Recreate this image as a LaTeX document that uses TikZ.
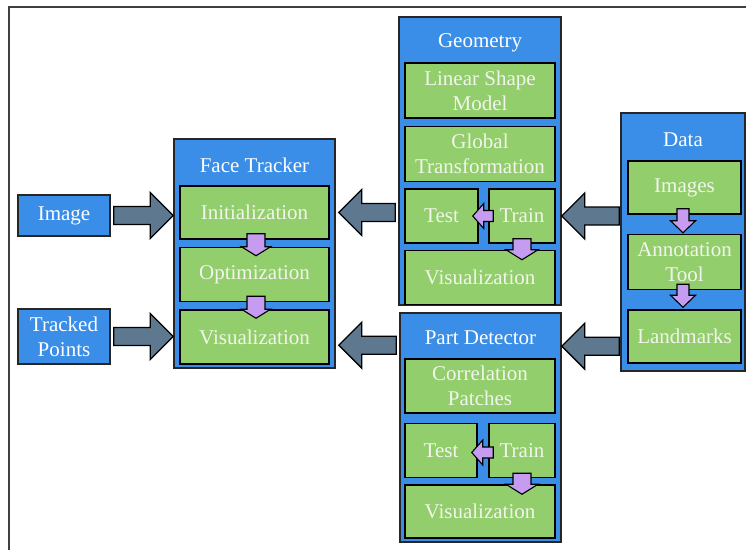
\documentclass[tikz,border=0pt]{standalone}
\usepackage{fontspec}
\setmainfont{Liberation Serif}
\usetikzlibrary{positioning,calc}

\definecolor{grpblue}{RGB}{58,142,232}
\definecolor{boxgreen}{RGB}{146,206,107}
\definecolor{subpurple}{RGB}{197,156,239}
\definecolor{arrgray}{RGB}{94,120,144}
\definecolor{boxtext}{RGB}{242,245,236}

% block arrow from start to target: shaft half width / head half width / head length
\tikzset{
  blockto/.style args={#1/#2/#3}{to path={
    ($(\tikztostart)!#1!90:(\tikztotarget)$)
    -- ($(\tikztotarget)!#3!(\tikztostart)+(\tikztostart)!#1!90:(\tikztotarget)-(\tikztostart)$)
    -- ($(\tikztotarget)!#3!(\tikztostart)+(\tikztostart)!#2!90:(\tikztotarget)-(\tikztostart)$)
    -- (\tikztotarget)
    -- ($(\tikztotarget)!#3!(\tikztostart)+(\tikztostart)!#2!-90:(\tikztotarget)-(\tikztostart)$)
    -- ($(\tikztotarget)!#3!(\tikztostart)+(\tikztostart)!#1!-90:(\tikztotarget)-(\tikztostart)$)
    -- ($(\tikztostart)!#1!-90:(\tikztotarget)$) -- cycle}}
}

\begin{document}
\begin{tikzpicture}[x=1pt, y=-1pt,
  grp/.style={draw=black!85, fill=grpblue, line width=1.6pt, inner sep=0pt},
  src/.style={draw=black!85, fill=grpblue, line width=1.6pt, inner sep=0pt, minimum width=92pt, align=center, text=white, font=\fontsize{21}{25}\selectfont},
  ttl/.style={text=white, font=\fontsize{21}{25}\selectfont},
  box/.style={draw=black, fill=boxgreen, line width=1.5pt, inner sep=0pt, minimum width=150pt, minimum height=54pt, align=center, text=boxtext, font=\fontsize{21}{25}\selectfont},
  arr/.style={draw=black, fill=arrgray, line width=1.3pt, blockto={9pt/23pt/23pt}},
  sub/.style={draw=black, fill=subpurple, line width=1.1pt, blockto={#1}},
  sub/.default={9pt/14.5pt/9pt}
]
\useasboundingbox (0,0) rectangle (746,550);
\draw[line width=1.8pt, black!75] (9,550) -- (9,7) -- (746,7);

% inputs
\node[src, minimum height=41pt] (img) at (64,215.5) {Image};
\node[src, minimum height=55pt] (trk) at (64,336.5) {Tracked\\Points};

% face tracker
\node[grp, minimum width=161pt, minimum height=229pt] (ft) at (254.5,253.5) {};
\node[ttl] (fttitle) at (254.5,165) {Face Tracker};
\node[box, minimum width=149pt, minimum height=53pt] (ftinit) at (254.5,212.5) {Initialization};
\node[box, minimum width=149pt, below=7pt of ftinit] (ftopt) {Optimization};
\node[box, minimum width=149pt, below=7pt of ftopt] (ftvis) {Visualization};

% geometry
\node[grp, minimum width=162pt, minimum height=288pt] (geo) at (480,161) {};
\node[ttl] (geotitle) at (480,43) {Geometry};
\node[box, minimum height=55pt] (geoshape) at (480,90.5) {Linear Shape\\Model};
\node[box, minimum height=55pt, below=7pt of geoshape] (geoglob) {Global\\Transformation};
\node[box, minimum width=73pt, below=6pt of geoglob.south west, anchor=north west] (geotest) {Test};
\node[box, minimum width=66pt, below=6pt of geoglob.south east, anchor=north east] (geotrain) {Train};
\node[box, below=6pt of geotest.south west, anchor=north west] (geovis) {Visualization};

% data
\node[grp, minimum width=124pt, minimum height=258pt] (data) at (683,242) {};
\node[ttl] (datatitle) at (683,140) {Data};
\node[box, minimum width=113pt, minimum height=53pt] (dataimg) at (684.5,187.5) {Images};
\node[box, minimum width=113pt, minimum height=55pt, below=19pt of dataimg] (dataann) {Annotation\\Tool};
\node[box, minimum width=113pt, minimum height=53pt, below=19pt of dataann] (dataland) {Landmarks};

% part detector
\node[grp, minimum width=161pt, minimum height=229pt] (pd) at (480.5,427.5) {};
\node[ttl] (pdtitle) at (480.5,338) {Part Detector};
\node[box] (pdcorr) at (480,386) {Correlation\\Patches};
\node[box, minimum width=72pt, below=9pt of pdcorr.south west, anchor=north west] (pdtest) {Test};
\node[box, minimum width=66pt, below=9pt of pdcorr.south east, anchor=north east] (pdtrain) {Train};
\node[box, minimum height=53pt, below=6pt of pdtest.south west, anchor=north west] (pdvis) {Visualization};

% big arrows
\coordinate (g1s) at ($(img.east)+(3,0)$);
\coordinate (g1e) at (img.east -| ft.west);
\coordinate (g2s) at ($(trk.east)+(3,0)$);
\coordinate (g2e) at (trk.east -| ft.west);
\coordinate (g3s) at ($(ftinit.east -| geo.west)+(-3,0)$);
\coordinate (g3e) at ($(ftinit.east -| ft.east)+(3,0)$);
\coordinate (g4s) at ($(pd.north west)+(-3,33)$);
\coordinate (g4e) at ($(ft.east |- g4s)+(3,0)$);
\coordinate (g5s) at ($(geotrain.east -| data.west)+(-1,0)$);
\coordinate (g5e) at (geotrain.east -| geo.east);
\coordinate (g6s) at ($(pd.north east -| data.west)+(-1,34)$);
\coordinate (g6e) at ($(pd.north east)+(0,34)$);
\draw[arr] (g1s) to (g1e);
\draw[arr] (g2s) to (g2e);
\draw[arr] (g3s) to (g3e);
\draw[arr] (g4s) to (g4e);
\draw[arr] (g5s) to (g5e);
\draw[arr] (g6s) to (g6e);

% small arrows
\coordinate (p1s) at ($(ftinit.south)+(1.5,-6)$);
\coordinate (p1e) at ($(ftopt.north)+(1.5,9)$);
\coordinate (p2s) at ($(ftopt.south)+(1.5,-6)$);
\coordinate (p2e) at ($(ftvis.north)+(1.5,9)$);
\coordinate (p3s) at ($(geotrain.west)+(5,0)$);
\coordinate (p3e) at ($(geotest.east)+(-6,0)$);
\coordinate (p4s) at ($(geotrain.south)+(0,-5)$);
\coordinate (p4e) at ($(geotrain.south |- geovis.north)+(0,10)$);
\coordinate (p5s) at ($(pdtrain.west)+(5,2)$);
\coordinate (p5e) at ($(pdtest.east)+(-6,2)$);
\coordinate (p6s) at ($(pdtrain.south)+(0,-5)$);
\coordinate (p6e) at ($(pdtrain.south |- pdvis.north)+(0,10)$);
\coordinate (p7s) at ($(dataimg.south)+(-1.5,-6)$);
\coordinate (p7e) at ($(dataann.north)+(-1.5,-1)$);
\coordinate (p8s) at ($(dataann.south)+(-1.5,-6)$);
\coordinate (p8e) at ($(dataland.north)+(-1.5,-2)$);
\draw[sub] (p1s) to (p1e);
\draw[sub] (p2s) to (p2e);
\draw[sub={5.5pt/12.5pt/11pt}] (p3s) to (p3e);
\draw[sub={9pt/16pt/10pt}] (p4s) to (p4e);
\draw[sub={5.5pt/12.5pt/11pt}] (p5s) to (p5e);
\draw[sub={9pt/16pt/10pt}] (p6s) to (p6e);
\draw[sub={6pt/12.5pt/12pt}] (p7s) to (p7e);
\draw[sub={6pt/12.5pt/12pt}] (p8s) to (p8e);
\end{tikzpicture}
\end{document}
